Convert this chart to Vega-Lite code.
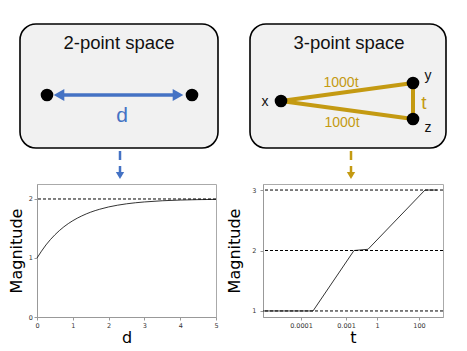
{
  "$schema": "https://vega.github.io/schema/vega-lite/v6.json",
  "padding": {"left": 7, "top": 0, "right": 0, "bottom": 0},
  "spacing": 0,
  "background": "white",
  "config": {
    "view": {"stroke": null},
    "font": "DejaVu Sans",
    "axis": {
      "domainColor": "#999999",
      "tickColor": "#999999",
      "tickSize": 3,
      "labelFontSize": 6.5,
      "labelColor": "#333333",
      "labelFont": "DejaVu Sans",
      "titleFont": "DejaVu Sans",
      "titleFontSize": 16,
      "titleFontWeight": "normal",
      "titleColor": "#000000",
      "grid": false,
      "labelFlush": false
    }
  },
  "datasets": {
    "boxes": [
      {"x": 20, "x2": 218, "y": 24, "y2": 148},
      {"x": 250, "x2": 446, "y": 24, "y2": 148}
    ],
    "titles": [
      {"x": 119, "y": 43, "label": "2-point space"},
      {"x": 349, "y": 43, "label": "3-point space"}
    ],
    "goldEdges": [
      {"x": 281, "y": 101, "x2": 413, "y2": 83},
      {"x": 281, "y": 101, "x2": 413, "y2": 119},
      {"x": 413, "y": 83, "x2": 413, "y2": 119}
    ],
    "blueEdge": [{"x": 62, "y": 95, "x2": 174, "y2": 95}],
    "blueHeads": [
      {"x": 59, "y": 95, "dir": "left"},
      {"x": 178, "y": 95, "dir": "right"}
    ],
    "dots": [
      {"x": 47, "y": 95},
      {"x": 192, "y": 95},
      {"x": 281, "y": 101},
      {"x": 413, "y": 83},
      {"x": 413, "y": 119}
    ],
    "goldSmall": [
      {"x": 341, "y": 83, "label": "1000t"},
      {"x": 342, "y": 123, "label": "1000t"}
    ],
    "goldBig": [{"x": 424, "y": 103, "label": "t"}],
    "blueBig": [{"x": 122, "y": 116, "label": "d"}],
    "pointNames": [
      {"x": 265, "y": 102, "label": "x"},
      {"x": 428, "y": 76, "label": "y"},
      {"x": 428, "y": 128, "label": "z"}
    ],
    "flows": [
      {"x": 120, "y": 151, "y2": 172, "series": "2-point"},
      {"x": 351, "y": 151, "y2": 172, "series": "3-point"}
    ],
    "flowHeads": [
      {"x": 120, "y": 175.5, "series": "2-point"},
      {"x": 351, "y": 175.5, "series": "3-point"}
    ],
    "curve2": [
      {"d": 0, "m": 1.0},
      {"d": 0.25, "m": 1.221},
      {"d": 0.5, "m": 1.393},
      {"d": 0.75, "m": 1.528},
      {"d": 1, "m": 1.632},
      {"d": 1.25, "m": 1.713},
      {"d": 1.5, "m": 1.777},
      {"d": 1.75, "m": 1.826},
      {"d": 2, "m": 1.865},
      {"d": 2.5, "m": 1.918},
      {"d": 3, "m": 1.95},
      {"d": 3.5, "m": 1.97},
      {"d": 4, "m": 1.982},
      {"d": 4.5, "m": 1.989},
      {"d": 5, "m": 1.993}
    ],
    "levels2": [{"m": 2}],
    "curve3": [
      {"pos": 0, "m": 1},
      {"pos": 50, "m": 1},
      {"pos": 91, "m": 2},
      {"pos": 105, "m": 2.02},
      {"pos": 162, "m": 3},
      {"pos": 174, "m": 3}
    ],
    "levels3": [{"m": 1}, {"m": 2}, {"m": 3}]
  },
  "vconcat": [
    {
      "width": 430,
      "height": 183,
      "encoding": {
        "x": {"field": "x", "type": "quantitative", "scale": {"domain": [37, 467], "nice": false, "zero": false}, "axis": null},
        "y": {"field": "y", "type": "quantitative", "scale": {"domain": [0, 183], "nice": false, "zero": false, "reverse": true}, "axis": null}
      },
      "layer": [
        {
          "data": {"name": "boxes"},
          "mark": {"type": "rect", "cornerRadius": 16, "fill": "#f1f1f1", "stroke": "#000000", "strokeWidth": 1.6},
          "encoding": {"x2": {"field": "x2"}, "y2": {"field": "y2"}}
        },
        {
          "data": {"name": "titles"},
          "mark": {"type": "text", "font": "Liberation Sans", "fontSize": 18.5, "color": "#111111"},
          "encoding": {"text": {"field": "label"}}
        },
        {
          "data": {"name": "goldEdges"},
          "mark": {"type": "rule", "color": "#c49a12", "strokeWidth": 4},
          "encoding": {"x2": {"field": "x2"}, "y2": {"field": "y2"}}
        },
        {
          "data": {"name": "blueEdge"},
          "mark": {"type": "rule", "color": "#4472c4", "strokeWidth": 3.5},
          "encoding": {"x2": {"field": "x2"}, "y2": {"field": "y2"}}
        },
        {
          "data": {"name": "blueHeads"},
          "mark": {"type": "point", "filled": true, "color": "#4472c4", "opacity": 1, "size": 150},
          "encoding": {"shape": {"field": "dir", "type": "nominal", "scale": {"domain": ["left", "right"], "range": ["triangle-left", "triangle-right"]}, "legend": null}}
        },
        {
          "data": {"name": "dots"},
          "mark": {"type": "circle", "color": "#000000", "opacity": 1, "size": 160}
        },
        {
          "data": {"name": "goldSmall"},
          "mark": {"type": "text", "font": "Liberation Sans", "fontSize": 14, "color": "#c49a12"},
          "encoding": {"text": {"field": "label"}}
        },
        {
          "data": {"name": "goldBig"},
          "mark": {"type": "text", "font": "Liberation Sans", "fontSize": 19, "color": "#c49a12"},
          "encoding": {"text": {"field": "label"}}
        },
        {
          "data": {"name": "blueBig"},
          "mark": {"type": "text", "font": "Liberation Sans", "fontSize": 21, "color": "#4472c4"},
          "encoding": {"text": {"field": "label"}}
        },
        {
          "data": {"name": "pointNames"},
          "mark": {"type": "text", "font": "Liberation Sans", "fontSize": 14, "color": "#111111"},
          "encoding": {"text": {"field": "label"}}
        },
        {
          "data": {"name": "flows"},
          "mark": {"type": "rule", "strokeWidth": 2.5, "strokeDash": [9, 6]},
          "encoding": {
            "y2": {"field": "y2"},
            "color": {"field": "series", "type": "nominal", "scale": {"domain": ["2-point", "3-point"], "range": ["#4472c4", "#c49a12"]}, "legend": null}
          }
        },
        {
          "data": {"name": "flowHeads"},
          "mark": {"type": "point", "filled": true, "opacity": 1, "shape": "triangle-down", "size": 70},
          "encoding": {
            "color": {"field": "series", "type": "nominal", "scale": {"domain": ["2-point", "3-point"], "range": ["#4472c4", "#c49a12"]}, "legend": null}
          }
        }
      ]
    },
    {
      "spacing": 7,
      "hconcat": [
        {
          "width": 179,
          "height": 133,
          "view": {"stroke": "#aaaaaa"},
          "encoding": {
            "x": {"field": "d", "type": "quantitative", "scale": {"domain": [0, 5], "nice": false}, "axis": {"values": [0, 1, 2, 3, 4, 5], "title": "d", "labelPadding": 2, "titlePadding": 1}},
            "y": {"field": "m", "type": "quantitative", "scale": {"domain": [0, 2.254], "nice": false}, "axis": {"values": [0, 1, 2], "title": "Magnitude", "labelPadding": 1.5, "titlePadding": 4}}
          },
          "layer": [
            {
              "data": {"name": "levels2"},
              "mark": {"type": "rule", "color": "#000000", "strokeWidth": 1, "strokeDash": [3, 2]},
              "encoding": {"x": null}
            },
            {
              "data": {"name": "curve2"},
              "mark": {"type": "line", "color": "#000000", "strokeWidth": 0.8, "interpolate": "monotone"}
            }
          ]
        },
        {
          "width": 180,
          "height": 133,
          "view": {"stroke": "#aaaaaa"},
          "encoding": {
            "x": {"field": "pos", "type": "quantitative", "scale": {"domain": [0, 180], "nice": false}, "axis": {"values": [38, 83, 114, 156], "labelExpr": "datum.value == 38 ? '0.0001' : datum.value == 83 ? '0.001' : datum.value == 114 ? '1' : '100'", "title": "t", "labelPadding": 2, "titlePadding": 1}},
            "y": {"field": "m", "type": "quantitative", "scale": {"domain": [0.9, 3.1], "nice": false, "zero": false}, "axis": {"values": [1, 2, 3], "title": "Magnitude", "labelPadding": 4, "titlePadding": 9}}
          },
          "layer": [
            {
              "data": {"name": "levels3"},
              "mark": {"type": "rule", "color": "#000000", "strokeWidth": 1, "strokeDash": [3, 2]},
              "encoding": {"x": null}
            },
            {
              "data": {"name": "curve3"},
              "mark": {"type": "line", "color": "#000000", "strokeWidth": 0.8}
            }
          ]
        }
      ]
    }
  ]
}
